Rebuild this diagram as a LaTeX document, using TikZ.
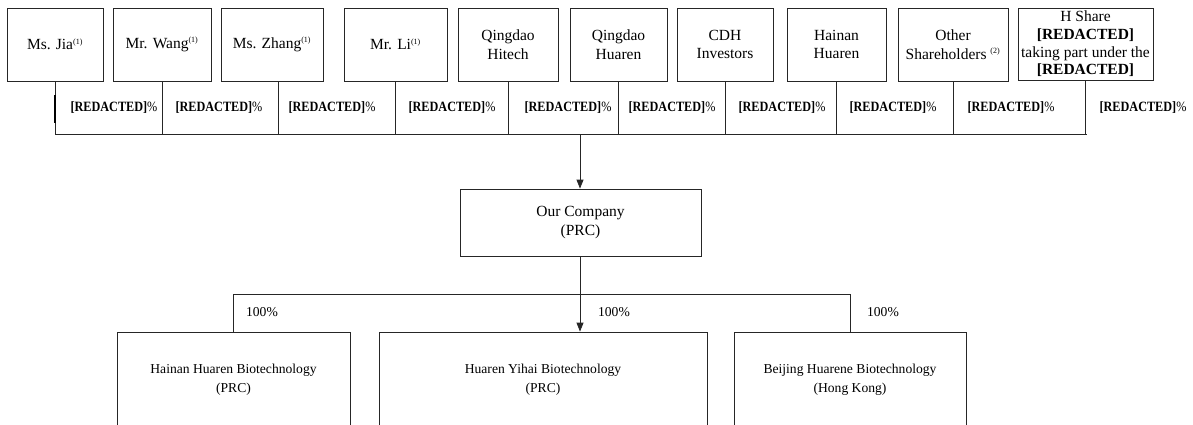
\documentclass[tikz,border=0pt]{standalone}
\usepackage{fontspec}
\setmainfont{Liberation Serif}
\newfontfamily\condfont{Liberation Serif}[FakeStretch=0.86]
\usetikzlibrary{arrows.meta}
\tikzset{
  ln/.style={draw=black!85, line width=0.8pt},
  topbox/.style={ln, rectangle, inner sep=0pt, minimum height=73pt, align=center,
     font=\fontsize{15.5}{18.5}\selectfont},
  midbox/.style={ln, rectangle, inner sep=0pt, align=center,
     font=\fontsize{15.5}{19.5}\selectfont},
  botbox/.style={ln, rectangle, inner sep=0pt, minimum height=96pt, align=center,
     font=\fontsize{13.6}{19}\selectfont},
  pct/.style={inner sep=0pt, font=\condfont\fontsize{14.2}{15}\selectfont},
  hpct/.style={inner sep=0pt, font=\fontsize{13.6}{15}\selectfont},
  arr/.style={ln, -{Triangle[length=9pt,width=7pt]}},
}
\newcommand{\fn}[1]{\textsuperscript{\fontsize{8}{9}\selectfont(#1)}}
\newcommand{\red}{\textbf{[REDACTED]}}
\begin{document}
\begin{tikzpicture}[x=1pt,y=-1pt]
\useasboundingbox (0,0) rectangle (1193,424);
\clip (0,0) rectangle (1193,424);
\fill[white] (0,0) rectangle (1193,424);
% top shareholders
\node[topbox, minimum width=96pt]  (s1) at (55,44.5)   {Ms. Jia\fn{1}};
\node[topbox, minimum width=98pt]  (s2) at (162,44.5)  {Mr. Wang\fn{1}};
\node[topbox, minimum width=102pt] (s3) at (272,44.5)  {Ms. Zhang\fn{1}};
\node[topbox, minimum width=103pt] (s4) at (395.5,44.5){Mr. Li\fn{1}};
\node[topbox, minimum width=100pt] (s5) at (508,44.5)  {Qingdao\\Hitech};
\node[topbox, minimum width=97pt]  (s6) at (618.5,44.5){Qingdao\\Huaren};
\node[topbox, minimum width=96pt]  (s7) at (725,44.5)  {CDH\\Investors};
\node[topbox, minimum width=99pt]  (s8) at (836.5,44.5){Hainan\\Huaren};
\node[topbox, minimum width=110pt] (s9) at (953,44.5)  {Other\\Shareholders~\fn{2}};
\node[topbox, minimum width=135pt, minimum height=72pt,
      font=\fontsize{15.5}{17.6}\selectfont] (s10) at (1085.5,44)
  {H Share\\\red\\taking part under the\\\red};
% bus
\coordinate (busL) at (55,134);
\coordinate (busR) at (1087,134);
\coordinate (busM) at (580,134);
\draw[ln] (busL) -- (busR);
\foreach \n in {s1,s2,s4,s5,s6,s7,s8,s9,s10}
  \draw[ln] (\n.south) -- (\n.south |- busL);
\draw[ln] ([xshift=6pt]s3.south) -- ([xshift=6pt]s3.south |- busL);
\draw[black, line width=1.6pt] (55,95) -- (55,123);
% percentages
\foreach \x in {114,219,332,452,568,672,782,893,1011,1143}
  \node[pct] at (\x,108) {\red\%};
% company
\node[midbox, minimum width=241pt, minimum height=67pt] (co) at (580.5,222.5) {Our Company\\(PRC)};
\draw[arr] (busM) -- (busM |- co.north);
% subsidiaries
\node[botbox, minimum width=233pt] (b1) at (233.5,380) {Hainan Huaren Biotechnology\\(PRC)};
\node[botbox, minimum width=328pt] (b2) at (543,380)   {Huaren Yihai Biotechnology\\(PRC)};
\node[botbox, minimum width=232pt] (b3) at (850,380)   {Beijing Huarene Biotechnology\\(Hong Kong)};
\coordinate (lbL) at (233,294);
\coordinate (lbR) at (850,294);
\draw[ln] (b1.north -| lbL) -- (lbL) -- (lbR) -- (b3.north -| lbR);
\draw[arr] (co.south -| busM) -- (busM |- b2.north);
\node[hpct] at (262,312) {100\%};
\node[hpct] at (614,312) {100\%};
\node[hpct] at (883,312) {100\%};
\end{tikzpicture}
\end{document}
